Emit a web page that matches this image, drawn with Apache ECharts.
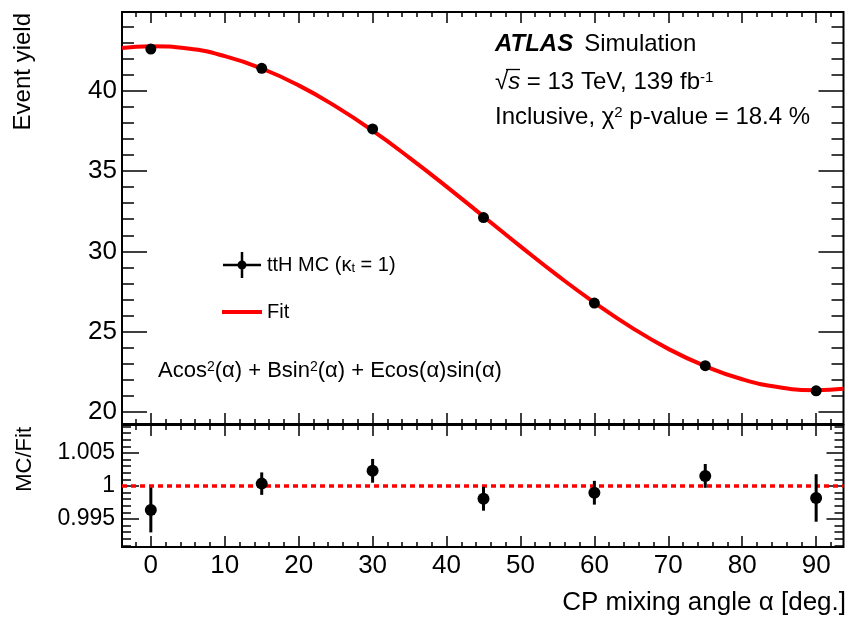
<!DOCTYPE html>
<html>
<head>
<meta charset="utf-8">
<script src="https://cdn.jsdelivr.net/npm/echarts@6/dist/echarts.min.js"></script>
<style>html,body{margin:0;padding:0;background:#fff}#c{width:850px;height:618px}</style>
</head>
<body>
<div id="c"></div>
<script>
// ---------------- data ----------------
const angles = [0, 15, 30, 45, 60, 75, 90];
const mcYield = [42.59, 41.39, 37.62, 32.10, 26.78, 22.88, 21.32];
const mcYieldErr = [0.14, 0.07, 0.07, 0.06, 0.05, 0.04, 0.08];
const ratio = [0.99637, 1.00036, 1.00230, 0.99806, 0.99898, 1.00153, 0.99819];
const ratioErr = [0.0034, 0.0017, 0.0018, 0.0018, 0.0018, 0.0018, 0.0036];
const fitAngles = [-3.9, 0, 5, 10, 15, 20, 25, 30, 35, 40, 45, 50, 55, 60, 65, 70, 75, 80, 85, 90, 93.7];
const fitYield = [42.65, 42.76, 42.62, 42.15, 41.38, 40.33, 39.02, 37.51, 35.82, 34.03, 32.17, 30.31, 28.50, 26.81, 25.27, 23.93, 22.85, 22.04, 21.54, 21.36, 21.44];
const ratioRef = 1;
const xTickLabels = [0, 10, 20, 30, 40, 50, 60, 70, 80, 90];
const yTopTickLabels = [20, 25, 30, 35, 40];
const ratioTickLabels = [0.995, 1, 1.005];
const mcName = 'ttH MC (κt = 1)';
const fitName = 'Fit';

// ---------------- layout ----------------
const FONT = '"Liberation Sans", Arial, Helvetica, sans-serif';
const FRAME_L = 122, FRAME_R = 843.5;
const TOP_T = 12, TOP_B = 424, BOT_T = 425, BOT_B = 547;
const X_RANGE = [-3.9, 93.7];
const Y_TOP_RANGE = [19.253, 44.896];
const Y_BOT_RANGE = [0.990758, 1.009242];
const X_MINOR = [-2, 92, 2];
const Y_TOP_MINOR = [20, 44, 1];
const Y_BOT_MINOR = [0.991, 1.009, 0.001];

function px(v) { return FRAME_L + (v - X_RANGE[0]) / (X_RANGE[1] - X_RANGE[0]) * (FRAME_R - FRAME_L); }
function pyTop(v) { return TOP_B - (v - Y_TOP_RANGE[0]) / (Y_TOP_RANGE[1] - Y_TOP_RANGE[0]) * (TOP_B - TOP_T); }
function pyBot(v) { return BOT_B - (v - Y_BOT_RANGE[0]) / (Y_BOT_RANGE[1] - Y_BOT_RANGE[0]) * (BOT_B - BOT_T); }

const grids = [], xAxis = [], yAxis = [];
function addGrid(l, t, r, b, extra) {
  grids.push(Object.assign({left: l, top: t, width: r - l, height: b - t, containLabel: false, outerBoundsMode: 'none'}, extra || {}));
  return grids.length - 1;
}
function valAxis(gi, min, max, extra) {
  return Object.assign({
    type: 'value', gridIndex: gi, min: min, max: max,
    axisLine: {show: false}, splitLine: {show: false},
    axisTick: {show: false}, axisLabel: {show: false}
  }, extra || {});
}
function tickStyle(len) {
  return {show: true, inside: true, length: len, lineStyle: {color: '#000', width: 1.5}};
}
const frameStyle = {show: true, borderColor: '#000', borderWidth: 2, backgroundColor: 'rgba(0,0,0,0)'};

// data grids (index 0 = top, 1 = bottom)
const gTop = addGrid(FRAME_L, TOP_T, FRAME_R, TOP_B, frameStyle);
xAxis.push(valAxis(gTop, X_RANGE[0], X_RANGE[1]));
yAxis.push(valAxis(gTop, Y_TOP_RANGE[0], Y_TOP_RANGE[1]));
const gBot = addGrid(FRAME_L, BOT_T, FRAME_R, BOT_B, frameStyle);
xAxis.push(valAxis(gBot, X_RANGE[0], X_RANGE[1]));
yAxis.push(valAxis(gBot, Y_BOT_RANGE[0], Y_BOT_RANGE[1]));

function addXTicks(t, b, min, max, step, len, label) {
  const gi = addGrid(px(min), t, px(max), b);
  xAxis.push(valAxis(gi, min, max, {position: 'bottom', interval: step, axisTick: tickStyle(len), axisLabel: label || {show: false}}));
  xAxis.push(valAxis(gi, min, max, {position: 'top', interval: step, axisTick: tickStyle(len)}));
  yAxis.push(valAxis(gi, 0, 1));
}
function addYTicks(pyFn, min, max, step, len, label) {
  const gi = addGrid(FRAME_L, pyFn(max), FRAME_R, pyFn(min));
  yAxis.push(valAxis(gi, min, max, {position: 'left', interval: step, axisTick: tickStyle(len), axisLabel: label || {show: false}}));
  yAxis.push(valAxis(gi, min, max, {position: 'right', interval: step, axisTick: tickStyle(len)}));
  xAxis.push(valAxis(gi, 0, 1));
}
const xStep = xTickLabels[1] - xTickLabels[0];
const yTopStep = yTopTickLabels[1] - yTopTickLabels[0];
const ratioStep = +(ratioTickLabels[1] - ratioTickLabels[0]).toFixed(4);

// top panel ticks
addXTicks(TOP_T, TOP_B, xTickLabels[0], xTickLabels[xTickLabels.length - 1], xStep, 11);
addXTicks(TOP_T, TOP_B, X_MINOR[0], X_MINOR[1], X_MINOR[2], 5);
addYTicks(pyTop, yTopTickLabels[0], yTopTickLabels[yTopTickLabels.length - 1], yTopStep, 25,
  {show: true, margin: 5, color: '#000', fontSize: 26, fontFamily: FONT});
addYTicks(pyTop, Y_TOP_MINOR[0], Y_TOP_MINOR[1], Y_TOP_MINOR[2], 12);
// bottom panel ticks
addXTicks(BOT_T, BOT_B, xTickLabels[0], xTickLabels[xTickLabels.length - 1], xStep, 11,
  {show: true, margin: 6, color: '#000', fontSize: 26, fontFamily: FONT});
addXTicks(BOT_T, BOT_B, X_MINOR[0], X_MINOR[1], X_MINOR[2], 5);
addYTicks(pyBot, ratioTickLabels[0], ratioTickLabels[ratioTickLabels.length - 1], ratioStep, 17,
  {show: true, margin: 7, color: '#000', fontSize: 23, fontFamily: FONT, formatter: v => String(+(+v).toFixed(3))});
addYTicks(pyBot, Y_BOT_MINOR[0], Y_BOT_MINOR[1], Y_BOT_MINOR[2], 9);

function errRenderer(width) {
  return function (params, api) {
    const x = api.value(0), y = api.value(1), e = api.value(2);
    const p1 = api.coord([x, y + e]), p2 = api.coord([x, y - e]);
    return {type: 'line', shape: {x1: p1[0], y1: p1[1], x2: p2[0], y2: p2[1]}, style: {stroke: '#000', lineWidth: width}};
  };
}

const series = [
  {name: fitName, type: 'line', xAxisIndex: 0, yAxisIndex: 0, z: 2,
   data: fitAngles.map((a, i) => [a, fitYield[i]]), smooth: 0.5, showSymbol: false, symbol: 'none',
   color: '#ff0000', itemStyle: {color: '#ff0000'}, lineStyle: {color: '#ff0000', width: 4}},
  {type: 'custom', xAxisIndex: 0, yAxisIndex: 0, z: 3, renderItem: errRenderer(2.5),
   data: angles.map((a, i) => [a, mcYield[i], mcYieldErr[i]]), encode: {x: 0, y: 1}},
  {name: mcName, type: 'scatter', xAxisIndex: 0, yAxisIndex: 0, z: 4, symbolSize: 11,
   itemStyle: {color: '#000', opacity: 1}, data: angles.map((a, i) => [a, mcYield[i]])},
  {type: 'line', xAxisIndex: 1, yAxisIndex: 1, z: 1, showSymbol: false, symbol: 'none',
   data: [[X_RANGE[0], ratioRef], [X_RANGE[1], ratioRef]],
   lineStyle: {color: '#ff0000', width: 3.5, type: [5, 4]}},
  {type: 'custom', xAxisIndex: 1, yAxisIndex: 1, z: 3, renderItem: errRenderer(3),
   data: angles.map((a, i) => [a, ratio[i], ratioErr[i]]), encode: {x: 0, y: 1}},
  {type: 'scatter', xAxisIndex: 1, yAxisIndex: 1, z: 4, symbolSize: 12,
   itemStyle: {color: '#000', opacity: 1}, data: angles.map((a, i) => [a, ratio[i]])}
];

const n24 = {fontSize: 24, fontFamily: FONT, lineHeight: 24, fill: '#000'};
const sup24 = {fontSize: 15, fontFamily: FONT, lineHeight: 21, verticalAlign: 'top', fill: '#000'};
const n22 = {fontSize: 22, fontFamily: FONT, lineHeight: 22, fill: '#000'};
const sup22 = {fontSize: 14, fontFamily: FONT, lineHeight: 19, verticalAlign: 'top', fill: '#000'};

const graphic = [
  {type: 'text', x: 495, y: 44.3, style: {text: '{b|ATLAS}{n|Simulation}', verticalAlign: 'middle',
    rich: {b: Object.assign({}, n24, {fontWeight: 'bold', fontStyle: 'italic'}), n: Object.assign({}, n24, {padding: [0, 0, 0, 11]})}}},
  {type: 'text', x: 495, y: 82, style: {text: '{n|√}{i|s}{n| = 13 TeV, 139 fb}{s|-1}', verticalAlign: 'middle',
    rich: {n: n24, i: Object.assign({}, n24, {fontStyle: 'italic'}), s: sup24}}},
  {type: 'line', shape: {x1: 506, y1: 69.5, x2: 520, y2: 69.5}, style: {stroke: '#000', lineWidth: 1.3}},
  {type: 'text', x: 495, y: 117.3, style: {text: '{n|Inclusive, χ}{s|2}{n| p-value = 18.4 %}', verticalAlign: 'middle',
    rich: {n: n24, s: sup24}}},
  {type: 'text', x: 158, y: 371, style: {text: '{n|Acos}{s|2}{n|(α) + Bsin}{s|2}{n|(α) + Ecos(α)sin(α)}', verticalAlign: 'middle',
    rich: {n: n22, s: sup22}}},
  {type: 'text', x: 23, y: 13, rotation: Math.PI / 2, style: {text: 'Event yield', align: 'right', verticalAlign: 'middle',
    fontSize: 24, fontFamily: FONT, fill: '#000'}},
  {type: 'text', x: 25, y: 427, rotation: Math.PI / 2, style: {text: 'MC/Fit', align: 'right', verticalAlign: 'middle',
    fontSize: 22, fontFamily: FONT, fill: '#000'}},
  {type: 'text', x: 846, y: 603, style: {text: 'CP mixing angle α [deg.]', align: 'right', verticalAlign: 'middle',
    fontSize: 26, fontFamily: FONT, fill: '#000'}}
];

const chart = echarts.init(document.getElementById('c'), null, {renderer: 'canvas'});
chart.setOption({
  animation: false,
  backgroundColor: '#fff',
  grid: grids,
  xAxis: xAxis,
  yAxis: yAxis,
  legend: {
    left: 222, top: 252, orient: 'vertical', itemWidth: 40, itemHeight: 26, itemGap: 24, padding: 0,
    selectedMode: false,
    data: [
      {name: mcName, icon: 'path://M0 11.75H38V14.25H0Z M17.75 0H20.25V26H17.75Z M19 8.5A4.5 4.5 0 1 1 19 17.5A4.5 4.5 0 1 1 19 8.5Z'},
      {name: fitName, icon: 'path://M0 0H38V4H0Z'}
    ],
    formatter: function (name) {
      return name === mcName ? '{n|ttH MC (κ}{t|t}{n| = 1)}' : '{n|Fit}';
    },
    textStyle: {color: '#000', fontSize: 20, fontFamily: FONT,
      rich: {n: {fontSize: 20, fontFamily: FONT, color: '#000', lineHeight: 20},
             t: {fontSize: 13, fontFamily: FONT, color: '#000', lineHeight: 7, verticalAlign: 'bottom'}}}
  },
  series: series,
  graphic: graphic
});
</script>
</body>
</html>
